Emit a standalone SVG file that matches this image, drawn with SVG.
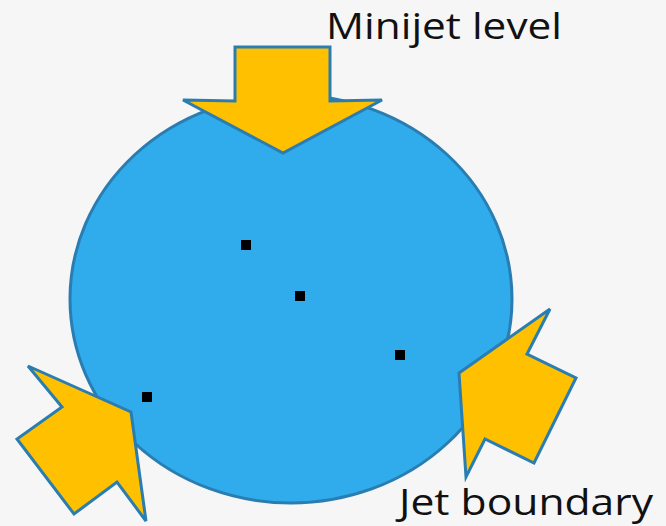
<svg xmlns="http://www.w3.org/2000/svg" width="666" height="526" viewBox="0 0 666 526">
<style>
.arrow{fill:#FFC000;stroke:#2A7DB0;stroke-width:3;stroke-linejoin:miter}
.dot{fill:#000}
.lbl{font-family:"Open Sans","Liberation Sans",sans-serif;font-size:36px;fill:#111}
</style>
<rect width="666" height="526" fill="#f6f6f6"/>
<g id="circle">
<ellipse cx="291" cy="299" rx="221" ry="204" fill="#30ABEB" stroke="#2A7DB0" stroke-width="3"/>
</g>
<g id="dots">
<rect class="dot" x="241" y="240" width="10" height="10"/>
<rect class="dot" x="295" y="291" width="10" height="10"/>
<rect class="dot" x="395" y="350" width="10" height="10"/>
<rect class="dot" x="142" y="392" width="10" height="10"/>
</g>
<g id="arrow-top">
<polygon class="arrow" points="235,47 330,47 330,101 382,100 283,153 183,100 235,101"/>
</g>
<g id="arrow-left">
<polygon class="arrow" points="28,366 131,412 146,521 117,482 74,514 17,439 62,407"/>
</g>
<g id="arrow-right">
<polygon class="arrow" points="550,309 459,373 466,477 485,439 534,463 576,378 527,354"/>
</g>
<g id="labels">
<text class="lbl" x="326" y="39" textLength="236" lengthAdjust="spacingAndGlyphs">Minijet level</text>
<text class="lbl" x="399" y="515" textLength="254" lengthAdjust="spacingAndGlyphs">Jet boundary</text>
</g>
</svg>
